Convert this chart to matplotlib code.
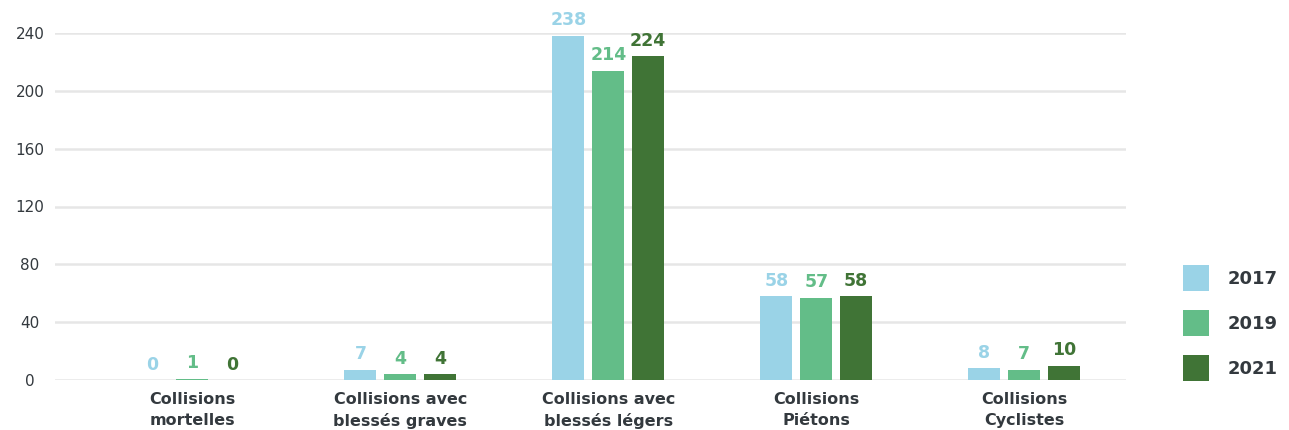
import matplotlib
matplotlib.use("Agg")
import matplotlib.pyplot as plt
import numpy as np

# Collision counts per category and year
categories = ["Collisions\nmortelles", "Collisions avec\nblessés graves",
              "Collisions avec\nblessés légers", "Collisions\nPiétons",
              "Collisions\nCyclistes"]
years = ["2017", "2019", "2021"]
values_2017 = [0, 7, 238, 58, 8]
values_2019 = [1, 4, 214, 57, 7]
values_2021 = [0, 4, 224, 58, 10]
y_ticks = [0, 40, 80, 120, 160, 200, 240]

colors = ["#9AD3E7", "#63BD88", "#407436"]
text_color = "#33393E"
grid_color = "#E6E6E6"

W, H = 1289, 430
fig = plt.figure(figsize=(W / 100, H / 100), dpi=100)
ax = fig.add_axes([55 / W, (H - 380) / H, (1126 - 55) / W, (380 - 33) / H])

x = np.arange(len(categories))
bar_w = 0.154
step = 0.192
series = [values_2017, values_2019, values_2021]

for k, (vals, col, yr) in enumerate(zip(series, colors, years)):
    xs = x + (k - 1) * step
    heights = [v if v > 0 else np.nan for v in vals]
    ax.bar(xs, heights, width=bar_w, color=col, label=yr, zorder=3)
    for xi, v in zip(xs, vals):
        ax.annotate(str(v), (xi, v), xytext=(0, 7.5), textcoords="offset points",
                    ha="center", va="baseline", color=col, fontsize=12.5,
                    fontweight="semibold", annotation_clip=False)

ax.set_xlim(-0.661, 4.49)
ax.set_ylim(0, 240)
ax.set_yticks(y_ticks)
ax.set_xticks(x)
ax.set_xticklabels(categories, fontsize=11.5, fontweight="bold", color=text_color,
                   linespacing=1.45, va="top")
ax.tick_params(axis="x", length=0, pad=9)
ax.tick_params(axis="y", length=0, pad=18, labelsize=11, labelcolor=text_color)
for lbl in ax.get_yticklabels():
    lbl.set_horizontalalignment("center")

ax.grid(axis="y", color=grid_color, linewidth=1.8, zorder=0)
for s in ax.spines.values():
    s.set_visible(False)

# square legend swatches (handleheight accounts for the legend's descent term)
leg = ax.legend(loc="center left", bbox_to_anchor=(1183 / W, (H - 323) / H),
                bbox_transform=fig.transFigure, frameon=False,
                prop={"size": 13, "weight": "bold"}, handlelength=1.44,
                handleheight=1.845, handletextpad=1.05, labelspacing=1.05,
                borderpad=0, borderaxespad=0)
for t in leg.get_texts():
    t.set_color(text_color)

fig.savefig("out.png", dpi=100)
